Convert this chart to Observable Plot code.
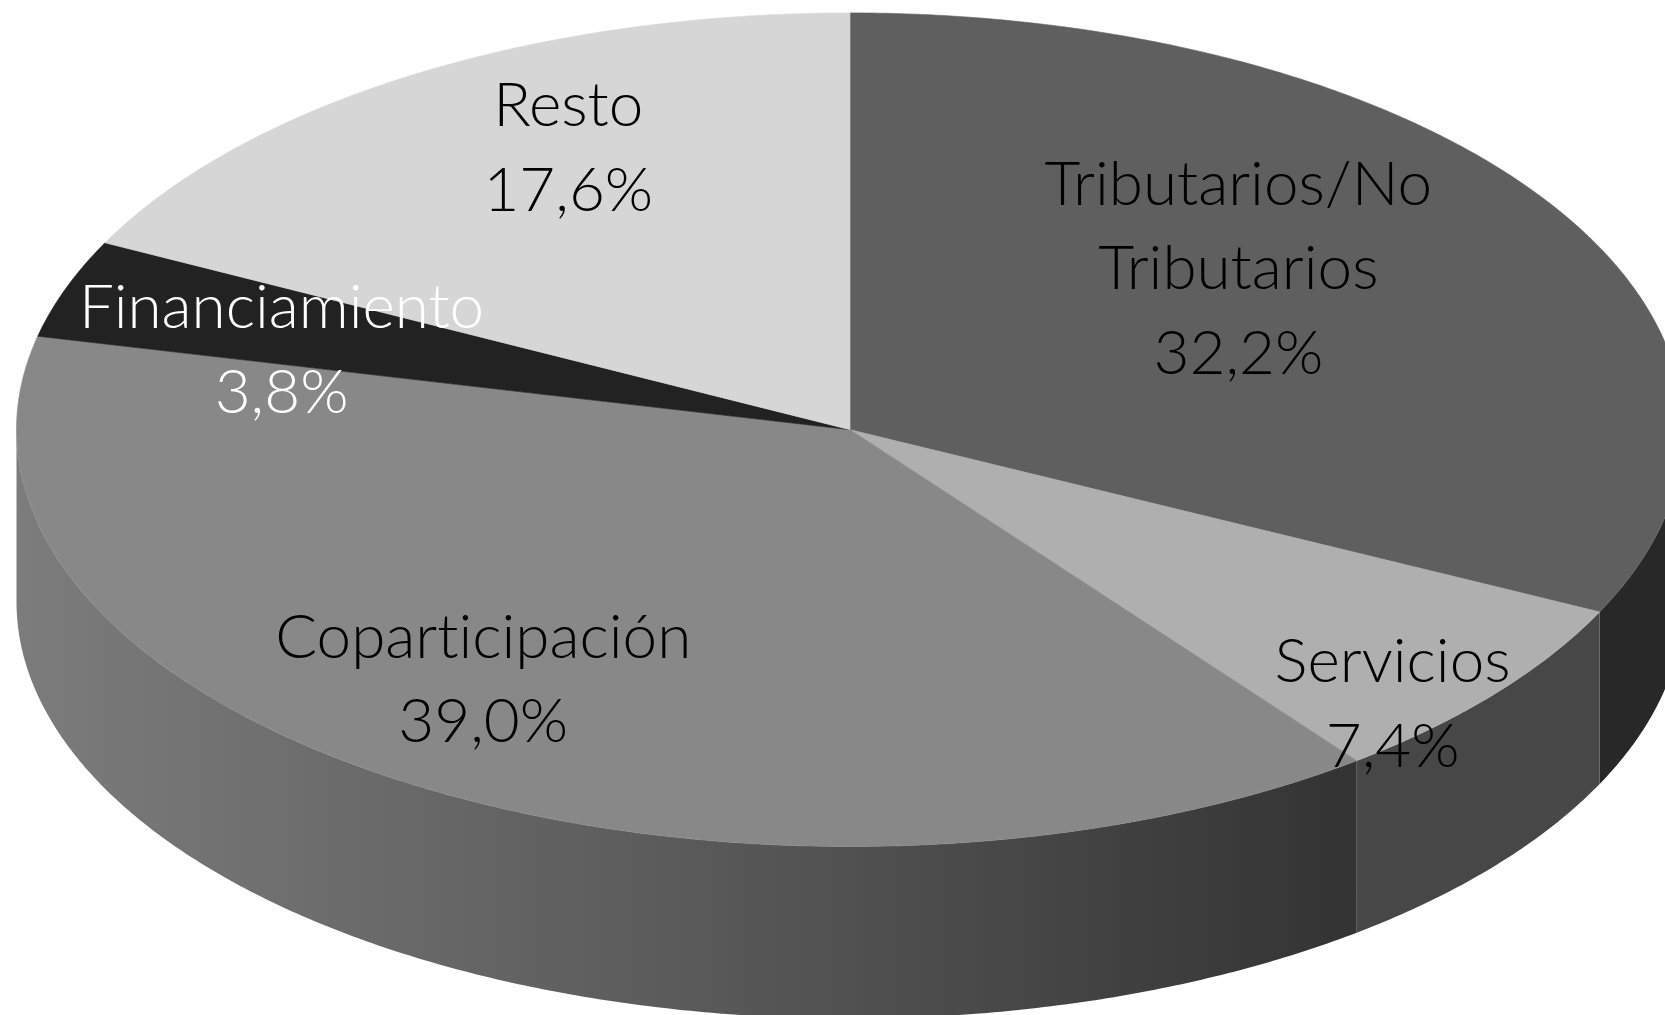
<!DOCTYPE html>
<html>
<head>
<meta charset="utf-8">
<script src="https://cdn.jsdelivr.net/npm/d3@7"></script>
<script src="https://cdn.jsdelivr.net/npm/@observablehq/plot@0.6"></script>
<style>
html,body{margin:0;padding:0;background:#fff;overflow:hidden}
svg{display:block}
svg text{font-variant-ligatures:none}
</style>
</head>
<body>
<div id="chart"></div>
<script>
const categories = ["Tributarios/No Tributarios", "Servicios", "Coparticipación", "Financiamiento", "Resto"];
const shares = [32.2, 7.4, 39.0, 3.8, 17.6];
const labels = ["Tributarios/No\nTributarios\n32,2%", "Servicios\n7,4%", "Coparticipación\n39,0%", "Financiamiento\n3,8%", "Resto\n17,6%"];
const topColors = ["#5f5f5f", "#afafaf", "#888888", "#222222", "#d6d6d6"];
const sideColors = ["#282828", "#474747", "url(#sideShade)", null, null];
const labelColors = ["#000000", "#000000", "#000000", "#ffffff", "#000000"];

const rad = (d) => d * Math.PI / 180;
const depth = 0.4128;
const cumulative = d3.cumsum(shares);
const spans = shares.map((s, i) => [(cumulative[i] - s) * 3.6, cumulative[i] * 3.6]);
const arcPts = (a, b, off = 0) => {
  const n = Math.max(2, Math.ceil(Math.abs(b - a) / 0.5));
  return d3.range(n + 1).map((k) => {
    const t = rad(a + (b - a) * k / n);
    return {x: Math.sin(t), y: Math.cos(t) - off};
  });
};
const topFaces = spans.map(([a, b]) => [{x: 0, y: 0}, ...arcPts(a, b), {x: 0, y: 0}]);
const sideFaces = spans.map(([a, b]) => {
  const from = Math.max(a, 90), to = Math.min(b, 270);
  return from < to ? [...arcPts(from, to), ...arcPts(to, from, depth)] : null;
});

const defs = () => {
  const s = d3.create("svg:defs");
  const g = s.append("linearGradient").attr("id", "sideShade");
  g.append("stop").attr("offset", "0%").attr("stop-color", "#7c7c7c");
  g.append("stop").attr("offset", "50%").attr("stop-color", "#5a5a5a");
  g.append("stop").attr("offset", "100%").attr("stop-color", "#333333");
  return s.node();
};

const fs = 62;
const marks = [defs];
sideFaces.forEach((f, i) => { if (f) marks.push(Plot.line(f, {x: "x", y: "y", fill: sideColors[i], stroke: "none"})); });
topFaces.forEach((f, i) => marks.push(Plot.line(f, {x: "x", y: "y", fill: topColors[i], stroke: topColors[i], strokeWidth: 0.6})));

const anchors = [
  {x: 0.466, y: 0.402},
  {x: 0.651, y: -0.642},
  {x: -0.440, y: -0.584},
  {x: -0.682, y: 0.207},
  {x: -0.338, y: 0.691}
];
labels.forEach((t, i) => marks.push(Plot.text([t], {
  x: () => anchors[i].x, y: () => anchors[i].y, text: (d) => d,
  fill: labelColors[i], fontSize: fs, fontWeight: 300, fontFamily: "Lato, Roboto, sans-serif",
  lineHeight: 84.5 / fs, textAnchor: "middle"
})));

const chart = Plot.plot({
  width: 1665, height: 1015,
  margin: 0,
  x: {domain: [-1, 1], range: [16, 1683], axis: null},
  y: {domain: [-1, 1], range: [846, 12.4], axis: null},
  style: {background: "#fff"},
  marks
});
document.getElementById("chart").append(chart);
</script>
</body>
</html>
